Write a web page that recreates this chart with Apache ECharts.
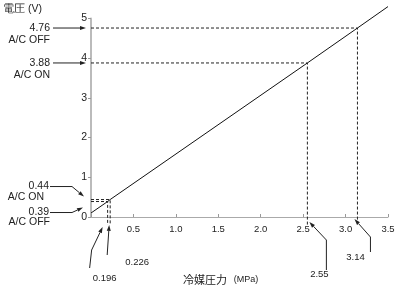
<!DOCTYPE html>
<html><head><meta charset="utf-8">
<script src="https://cdn.jsdelivr.net/npm/echarts@6/dist/echarts.min.js"></script>
<style>html,body{margin:0;padding:0;background:#fff}#c{width:403px;height:289px}</style>
</head><body><div id="c"></div>
<script>
// ---- data ----
const lineX = [0, 0.196, 0.226, 2.55, 3.14, 3.5];
const lineY = [0.1, 0.39, 0.44, 3.88, 4.76, 5.3];
const refPressure = [0.196, 0.226, 2.55, 3.14];
const refVoltage = [0.39, 0.44, 3.88, 4.76];
const refPressureLabels = ['0.196', '0.226', '2.55', '3.14'];
const refVoltageLabels = ['0.39', '0.44', '3.88', '4.76'];
const refState = ['A/C OFF', 'A/C ON', 'A/C ON', 'A/C OFF'];
const xTicks = [0, 0.5, 1.0, 1.5, 2.0, 2.5, 3.0, 3.5];
const yTicks = [0, 1, 2, 3, 4, 5];
const yTitle = '電圧 (V)';
const xTitle = '冷媒圧力';
const xUnit = '(MPa)';

const FONT = 'Liberation Sans, Arial, sans-serif';
const TXT = '#222';
const chart = echarts.init(document.getElementById('c'), null, {renderer: 'canvas'});

const series = [{
  type: 'line', data: lineX.map((x, i) => [x, lineY[i]]), symbol: 'none', clip: false,
  lineStyle: {color: '#111', width: 1}, z: 5, silent: true
}];
refPressure.forEach((p, i) => {
  const v = refVoltage[i];
  series.push({
    type: 'line', clip: false, symbol: 'none', silent: true,
    data: [[0, v], [p, v], [p, -0.2]],
    lineStyle: {color: '#222', width: 1, type: [3, 2]}, z: 3
  });
});

chart.setOption({
  animation: false,
  grid: {left: 91, right: 15, top: 18.5, bottom: 72},
  xAxis: {
    type: 'value', min: xTicks[0], max: xTicks[xTicks.length - 1], interval: 0.5,
    axisLine: {lineStyle: {color: '#aaa', width: 1}},
    axisTick: {inside: true, length: 3, lineStyle: {color: '#999'}},
    splitLine: {show: false},
    axisLabel: {
      fontFamily: FONT, fontSize: 9.5, color: TXT, margin: 7,
      formatter: v => v === 0 ? '' : v.toFixed(1)
    }
  },
  yAxis: {
    type: 'value', min: yTicks[0], max: yTicks[yTicks.length - 1], interval: 1,
    axisLine: {show: true, lineStyle: {color: '#bbb', width: 2}},
    axisTick: {show: true, length: 3, lineStyle: {color: '#999'}},
    splitLine: {show: false},
    axisLabel: {fontFamily: FONT, fontSize: 10.5, color: TXT, margin: 4}
  },
  series: series
});

function arrow(points, color) {
  const n = points.length;
  const tip = points[n - 1], prev = points[n - 2];
  const dx = tip[0] - prev[0], dy = tip[1] - prev[1];
  const len = Math.hypot(dx, dy) || 1;
  const ux = dx / len, uy = dy / len;
  const L = 6, W = 2;
  const bx = tip[0] - ux * L, by = tip[1] - uy * L;
  const shaft = points.slice(0, n - 1).concat([[bx, by]]);
  return [
    {type: 'polyline', shape: {points: shaft}, style: {stroke: color, lineWidth: 1, fill: null}, silent: true},
    {type: 'polygon', shape: {points: [tip, [bx - uy * W, by + ux * W], [bx + uy * W, by - ux * W]]},
     style: {fill: color}, silent: true}
  ];
}
function text(x, y, s, align, size) {
  return {type: 'text', x: x, y: y, silent: true,
    style: {text: s, fill: TXT, font: (size || 10.5) + 'px ' + FONT, align: align || 'left', verticalAlign: 'middle'}};
}

const g = [];
const axisY = chart.convertToPixel({gridIndex: 0}, [0, 0])[1];
const axisX = chart.convertToPixel({gridIndex: 0}, [0, 0])[0];
const AC = '#222';
refPressure.forEach((p, i) => {
  const [px, py] = chart.convertToPixel({gridIndex: 0}, [p, refVoltage[i]]);
  // left voltage annotations
  if (refVoltage[i] > 1) {
    g.push(text(50, py, refVoltageLabels[i], 'right'));
    g.push(text(50, py + 12, refState[i], 'right'));
    g.push(...arrow([[53, py], [axisX - 5, py]], AC));
  } else if (i === 1) {
    const ty = py - 13;
    g.push(text(49, ty, refVoltageLabels[i], 'right'));
    g.push(text(44, ty + 11, refState[i], 'right'));
    g.push(...arrow([[50, ty], [72, ty], [axisX - 7, py - 3]], AC));
  } else {
    const ty = py + 11;
    g.push(text(49, ty, refVoltageLabels[i], 'right'));
    g.push(text(50, ty + 10, refState[i], 'right'));
    g.push(...arrow([[50, ty], [72, ty], [axisX - 8, py + 6]], AC));
  }
  // bottom pressure annotations
  if (i === 0) {
    g.push(...arrow([[px - 18, axisY + 51], [px - 16, axisY + 33], [px - 5, axisY + 10]], AC));
    g.push(text(px - 3, axisY + 61, refPressureLabels[i], 'center', 9.5));
  } else if (i === 1) {
    g.push(...arrow([[px - 3, axisY + 38], [px - 1, axisY + 8]], AC));
    g.push(text(px + 27, axisY + 45, refPressureLabels[i], 'center', 9.5));
  } else if (i === 2) {
    g.push(...arrow([[px + 19, axisY + 53], [px + 19, axisY + 23], [px + 2, axisY + 5]], AC));
    g.push(text(px + 12, axisY + 57, refPressureLabels[i], 'center', 9.5));
  } else {
    g.push(...arrow([[px + 13, axisY + 35], [px + 13, axisY + 20], [px - 3, axisY + 2]], AC));
    g.push(text(px - 2, axisY + 40, refPressureLabels[i], 'center', 9.5));
  }
});
g.push(text(3, 9, yTitle, 'left', 10.5));
g.push({type: 'text', x: 183, y: 280, silent: true,
  style: {text: '{a|' + xTitle + '}  {b|' + xUnit + '}', verticalAlign: 'middle',
    rich: {a: {fontSize: 11, fontFamily: 'Noto Sans CJK JP', fill: TXT},
           b: {fontSize: 9, fontFamily: FONT, fill: TXT}}}});
chart.setOption({graphic: g});
</script></body></html>
